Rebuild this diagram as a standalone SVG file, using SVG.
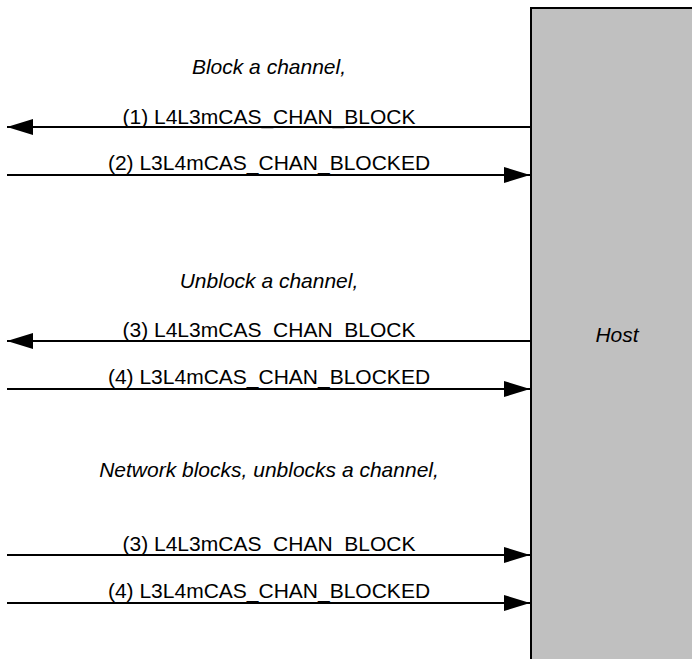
<svg xmlns="http://www.w3.org/2000/svg" width="692" height="659" viewBox="0 0 692 659">
<style>
.lbl{font-family:"Liberation Sans",Arial,sans-serif;font-size:21px;fill:#000;text-anchor:middle}
.it{font-style:italic}
.conn{stroke:#000;stroke-width:2;fill:none}
</style>
<defs>
<marker id="ah" markerUnits="userSpaceOnUse" markerWidth="28" markerHeight="18" refX="26" refY="8" orient="auto">
<path d="M0,0 L26,8 L0,16 Z" fill="#000"/>
</marker>
</defs>
<rect width="692" height="659" fill="#fff"/>
<g id="host">
<rect x="531" y="8" width="170" height="660" fill="#c0c0c0" stroke="#000" stroke-width="2"/>
<text class="lbl it" x="617" y="342">Host</text>
</g>
<g id="section-labels">
<text class="lbl it" x="269" y="74">Block a channel,</text>
<text class="lbl it" x="269" y="288">Unblock a channel,</text>
<text class="lbl it" x="269" y="477">Network blocks, unblocks a channel,</text>
</g>
<g id="connectors">
<line class="conn" x1="530" y1="127" x2="7" y2="127" marker-end="url(#ah)"/>
<line class="conn" x1="7" y1="175" x2="530" y2="175" marker-end="url(#ah)"/>
<line class="conn" x1="530" y1="341" x2="7" y2="341" marker-end="url(#ah)"/>
<line class="conn" x1="7" y1="389" x2="530" y2="389" marker-end="url(#ah)"/>
<line class="conn" x1="7" y1="555" x2="530" y2="555" marker-end="url(#ah)"/>
<line class="conn" x1="7" y1="603" x2="530" y2="603" marker-end="url(#ah)"/>
</g>
<g id="connector-labels">
<text class="lbl" x="269" y="124">(1) L4L3mCAS_CHAN_BLOCK</text>
<text class="lbl" x="269" y="170">(2) L3L4mCAS_CHAN_BLOCKED</text>
<text class="lbl" x="269" y="337">(3) L4L3mCAS_CHAN_BLOCK</text>
<text class="lbl" x="269" y="384">(4) L3L4mCAS_CHAN_BLOCKED</text>
<text class="lbl" x="269" y="551">(3) L4L3mCAS_CHAN_BLOCK</text>
<text class="lbl" x="269" y="598">(4) L3L4mCAS_CHAN_BLOCKED</text>
</g>
</svg>
